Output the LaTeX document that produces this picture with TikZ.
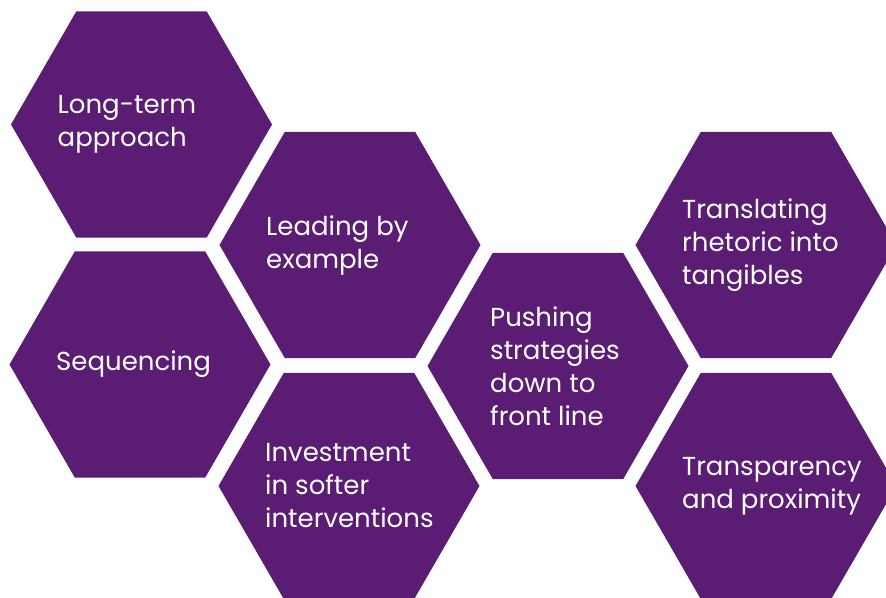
\documentclass[tikz,border=0pt]{standalone}
\usepackage{fontspec}
\setmainfont{Poppins}
\usetikzlibrary{shapes.geometric}
\definecolor{hexpurple}{RGB}{91,29,116}

\begin{document}
\begin{tikzpicture}[x=1pt,y=-1pt,
    hexa/.style={regular polygon,regular polygon sides=6,minimum size=261pt,inner sep=0pt,fill=hexpurple},
    hextext/.style={anchor=west,xshift=-84pt,inner sep=0pt,text=white,align=left,
      font=\fontsize{26}{33}\selectfont}]
  \useasboundingbox (0,0) rectangle (886,597);
  \clip (0,0) rectangle (886,597);
  \node[hexa] (longterm) at (141.5,124.5) {};
  \node[hexa] (sequencing) at (140,364.5) {};
  \node[hexa] (leading) at (350,245) {};
  \node[hexa] (investment) at (349,486) {};
  \node[hexa] (pushing) at (558,366) {};
  \node[hexa] (translating) at (766,245) {};
  \node[hexa] (transparency) at (766,486) {};

  \node[hextext] (longtermtext) at (longterm) {Long-term\\approach};
  \node[hextext] (sequencingtext) at (sequencing) {Sequencing};
  \node[hextext] (leadingtext) at (leading) {Leading by\\example};
  \node[hextext] (investmenttext) at (investment) {Investment\\in softer\\interventions};
  \node[hextext,xshift=16pt] (pushingtext) at (pushing) {Pushing\\strategies\\down to\\front line};
  \node[hextext] (translatingtext) at (translating) {Translating\\rhetoric into\\tangibles};
  \node[hextext] (transparencytext) at (transparency) {Transparency\\and proximity};
\end{tikzpicture}
\end{document}
